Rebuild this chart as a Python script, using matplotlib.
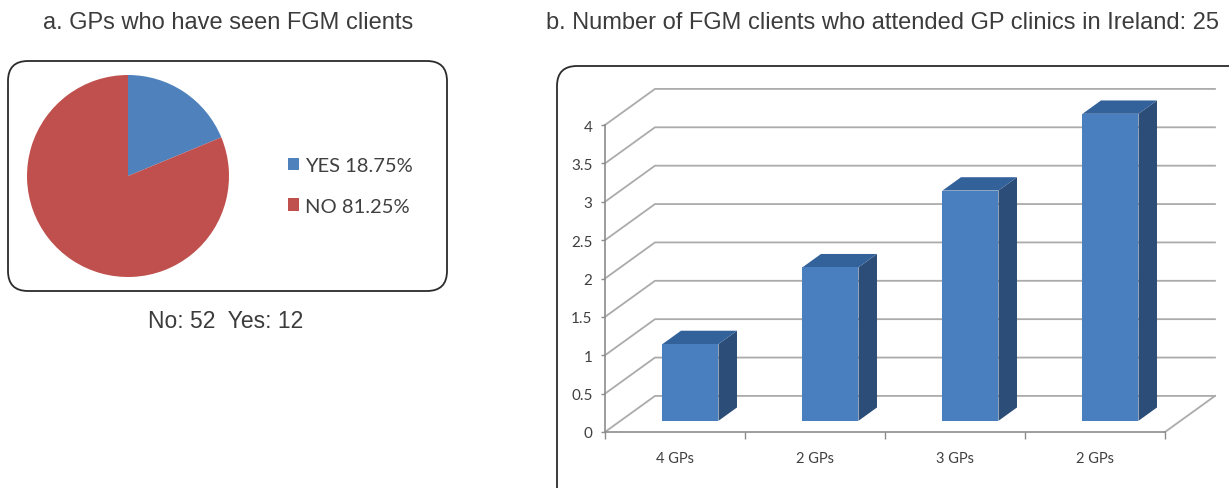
import numpy as np
import matplotlib
matplotlib.use("Agg")
import matplotlib.pyplot as plt
from matplotlib.patches import FancyBboxPatch, Polygon

# survey answers (left panel)
answer_labels = ["YES", "NO"]
answer_counts = [12, 52]

# clients per group of GPs (right panel)
gp_groups = ["4 GPs", "2 GPs", "3 GPs", "2 GPs"]
fgm_clients = [1, 2, 3, 4]
total_clients = 25
y_ticks = [0, 0.5, 1, 1.5, 2, 2.5, 3, 3.5, 4]

W, H = 1229, 489
fig = plt.figure(figsize=(W / 100, H / 100), dpi=100)

text_font = "Liberation Sans"
chart_font = "Lato"
text_col = "#3c3c3c"

# background layer in pixel units: rounded frames and captions
bg = fig.add_axes([0, 0, 1, 1], zorder=0)
bg.set_xlim(0, W)
bg.set_ylim(H, 0)
bg.axis("off")
bg.add_patch(FancyBboxPatch((8, 62), 439, 230, boxstyle="round,pad=0,rounding_size=20",
                            fc="white", ec="#2b2b2b", lw=1.3))
bg.add_patch(FancyBboxPatch((557, 67), 700, 450, boxstyle="round,pad=0,rounding_size=20",
                            fc="white", ec="#2b2b2b", lw=1.3, clip_on=False))
bg.text(228, 23, "a. GPs who have seen FGM clients", ha="center", va="center",
        fontsize=17, family=text_font, color=text_col)
bg.text(882, 23, "b. Number of FGM clients who attended GP clinics in Ireland: %d" % total_clients,
        ha="center", va="center", fontsize=17, family=text_font, color=text_col)
bg.text(226, 322, "No: %d  Yes: %d" % (answer_counts[1], answer_counts[0]), ha="center", va="center",
        fontsize=16.5, family=text_font, color=text_col)

# ---- pie ----
cx, cy, r = 128, 177, 101
pax = fig.add_axes([(cx - r) / W, (H - cy - r) / H, 2 * r / W, 2 * r / H], zorder=2)
total = sum(answer_counts)
pct = [100 * c / total for c in answer_counts]
wedges, _ = pax.pie(answer_counts, colors=["#4f81bd", "#c0504d"], startangle=90,
                    counterclock=False, wedgeprops=dict(linewidth=0))
pax.set_xlim(-1, 1)
pax.set_ylim(-1, 1)
leg = fig.legend(wedges, ["%s %.2f%%" % (lab, p) for lab, p in zip(answer_labels, pct)],
                 loc="center left", bbox_to_anchor=(270 / W, 1 - 187 / H), frameon=False,
                 handlelength=0.55, handleheight=0.55, handletextpad=0.3, labelspacing=1.15,
                 prop=dict(family=chart_font, size=14.5))
for t in leg.get_texts():
    t.set_color("#404040")

# ---- pseudo 3d columns ----
dx, dy = 0.357, 0.47      # full depth offset (category units, value units)
f1, f2 = 0.31, 0.68       # depth of bar front / back faces
ux, uy = 140, 76.75       # pixels per category / per value unit
x0px, y0px = 605, 433
left_px, top_px = 560, 70
bax = fig.add_axes([left_px / W, 0, (W - left_px) / W, (H - top_px) / H], zorder=2)
bax.set_facecolor("none")
bax.set_xlim((left_px - x0px) / ux, (W - x0px) / ux)
bax.set_ylim((y0px - H) / uy, (y0px - top_px) / uy)

n = len(fgm_clients)
grid = "#ababab"
for v in y_ticks:
    bax.plot([0, dx, n + dx], [v, v + dy, v + dy], color=grid, lw=1.3, zorder=1)
bax.plot([n, n + dx], [0, dy], color=grid, lw=1.3, zorder=1)

front, top, side = "#4a7fbf", "#33619a", "#2b4d78"
for i, v in enumerate(fgm_clients):
    a, b = i + 0.3, i + 0.7
    bax.add_patch(Polygon([(b + f1 * dx, f1 * dy), (b + f2 * dx, f2 * dy),
                           (b + f2 * dx, v + f2 * dy), (b + f1 * dx, v + f1 * dy)],
                          fc=side, ec="none", zorder=3))
    bax.add_patch(Polygon([(a + f1 * dx, v + f1 * dy), (b + f1 * dx, v + f1 * dy),
                           (b + f2 * dx, v + f2 * dy), (a + f2 * dx, v + f2 * dy)],
                          fc=top, ec="none", zorder=3))
    bax.add_patch(Polygon([(a + f1 * dx, f1 * dy), (b + f1 * dx, f1 * dy),
                           (b + f1 * dx, v + f1 * dy), (a + f1 * dx, v + f1 * dy)],
                          fc=front, ec="none", zorder=4))

for s in ["top", "right"]:
    bax.spines[s].set_visible(False)
bax.spines["left"].set_position(("data", 0))
bax.spines["left"].set_bounds(0, 4)
bax.spines["bottom"].set_position(("data", 0))
bax.spines["bottom"].set_bounds(0, n)
for s in ["left", "bottom"]:
    bax.spines[s].set_color("#8c8c8c")
    bax.spines[s].set_linewidth(1.2)

bax.set_yticks(y_ticks)
bax.set_yticklabels(["%g" % t for t in y_ticks])
bax.tick_params(axis="y", length=3, width=1, color="#8c8c8c", pad=6,
                labelsize=11, labelcolor="#404040")
bax.set_xticks(range(n + 1))
bax.set_xticklabels([""] * (n + 1))
bax.set_xticks(np.arange(n) + 0.5, minor=True)
bax.set_xticklabels(gp_groups, minor=True)
bax.tick_params(axis="x", which="major", length=5, width=1, color="#8c8c8c")
bax.tick_params(axis="x", which="minor", length=0, pad=14, labelsize=10.5, labelcolor="#404040")
for t in bax.get_yticklabels() + bax.get_xticklabels(minor=True):
    t.set_family(chart_font)

fig.savefig("out.png", dpi=100)
